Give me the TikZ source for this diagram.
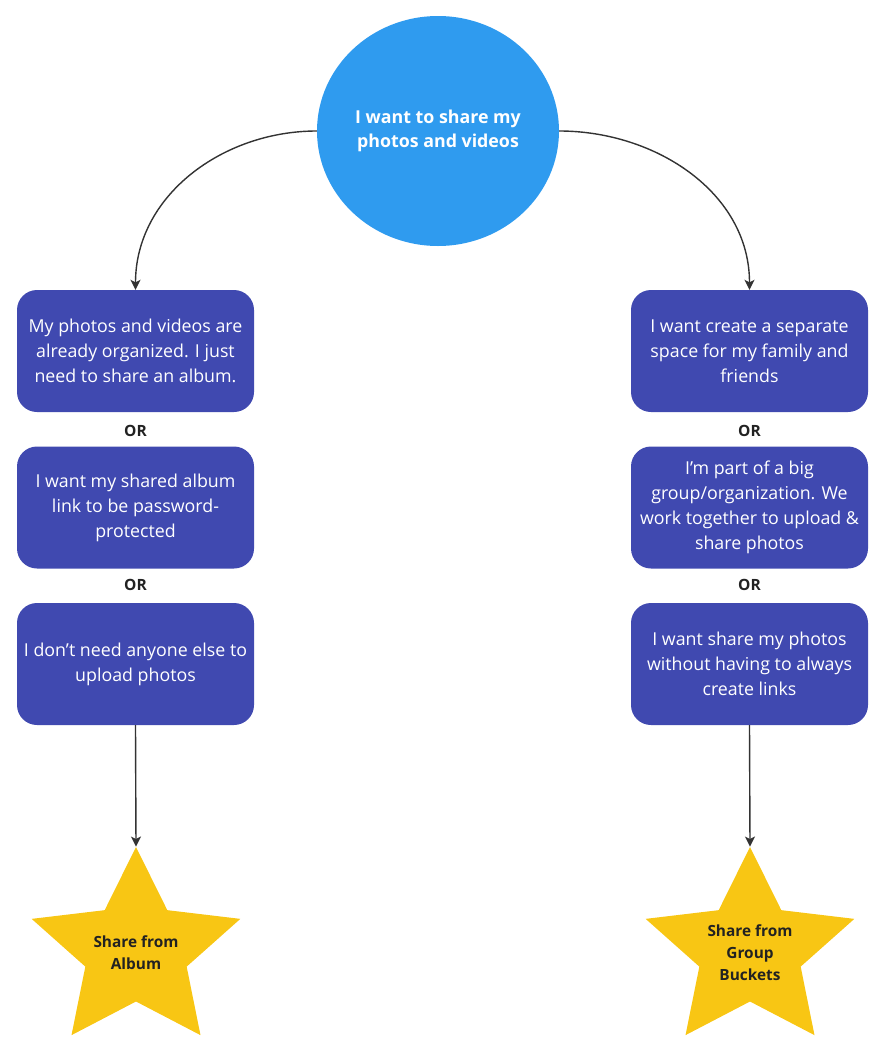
\documentclass[tikz,border=0pt]{standalone}
\usepackage{fontspec}
\setmainfont{Open Sans}
\usetikzlibrary{shapes.geometric,arrows.meta}
\definecolor{circblue}{HTML}{2F9BEF}
\definecolor{boxblue}{HTML}{4049B0}
\definecolor{staryel}{HTML}{F8C614}
\definecolor{linegray}{HTML}{333333}
\definecolor{txtdark}{HTML}{222222}
\tikzset{
  choice/.style={draw=none, fill=boxblue, rounded corners=20pt, minimum width=237pt, minimum height=122pt,
    text=white, align=center, inner sep=0pt, font=\fontsize{17.8}{25}\selectfont},
  orlabel/.style={text=txtdark, font=\bfseries\fontsize{15.5}{18}\selectfont, inner sep=0pt},
  goal/.style={star, star points=5, star point ratio=2.06, minimum size=208pt, inner sep=0pt,
    fill=staryel, draw=none, transform shape},
  goaltext/.style={text=txtdark, align=center, inner sep=0pt, font=\bfseries\fontsize{15.4}{22}\selectfont},
  conn/.style={draw=linegray, line width=1.4pt, -{Stealth[length=10pt,width=10pt,inset=2.5pt]}}
}
\begin{document}
\begin{tikzpicture}[x=1pt,y=-1pt]
\useasboundingbox (0,0) rectangle (890,1063);
\node[ellipse, fill=circblue, draw=none, minimum width=242pt, minimum height=230pt, inner sep=0pt,
  text=white, align=center, font=\bfseries\fontsize{17.8}{24}\selectfont] (top) at (438,131)
  {I want to share my\\photos and videos};

\node[choice] (l1) at (135.5,351) {My photos and videos are\\already organized. I just\\need to share an album.};
\node[orlabel] (or1) at (135.5,431) {OR};
\node[choice] (l2) at (135.5,507.5) {I want my shared album\\link to be password-\\protected};
\node[orlabel] (or2) at (135.5,585) {OR};
\node[choice] (l3) at (135.5,664) {I don’t need anyone else to\\upload photos};

\node[choice] (r1) at (749.5,351) {I want create a separate\\space for my family and\\friends};
\node[orlabel] (or3) at (749.5,431) {OR};
\node[choice] (r2) at (749.5,507.5) {I’m part of a big\\group/organization. We\\work together to upload \&\\share photos};
\node[orlabel] (or4) at (749.5,585) {OR};
\node[choice] (r3) at (749.5,664) {I want share my photos\\without having to always\\create links};

\begin{scope}[shift={(136,951)}, xscale=1.055]
  \node[goal] (s1) at (0,0) {};
\end{scope}
\node[goaltext] (s1t) at (136,953) {Share from\\Album};
\begin{scope}[shift={(750,951)}, xscale=1.055]
  \node[goal] (s2) at (0,0) {};
\end{scope}
\node[goaltext] (s2t) at (750,953) {Share from\\Group\\Buckets};

\draw[conn] (top.west) to[out=180,in=90] (l1.north);
\draw[conn] (top.east) to[out=0,in=90] (r1.north);
\draw[conn] (l3.south) -- (s1.north);
\draw[conn] (r3.south) -- (s2.north);
\end{tikzpicture}
\end{document}
